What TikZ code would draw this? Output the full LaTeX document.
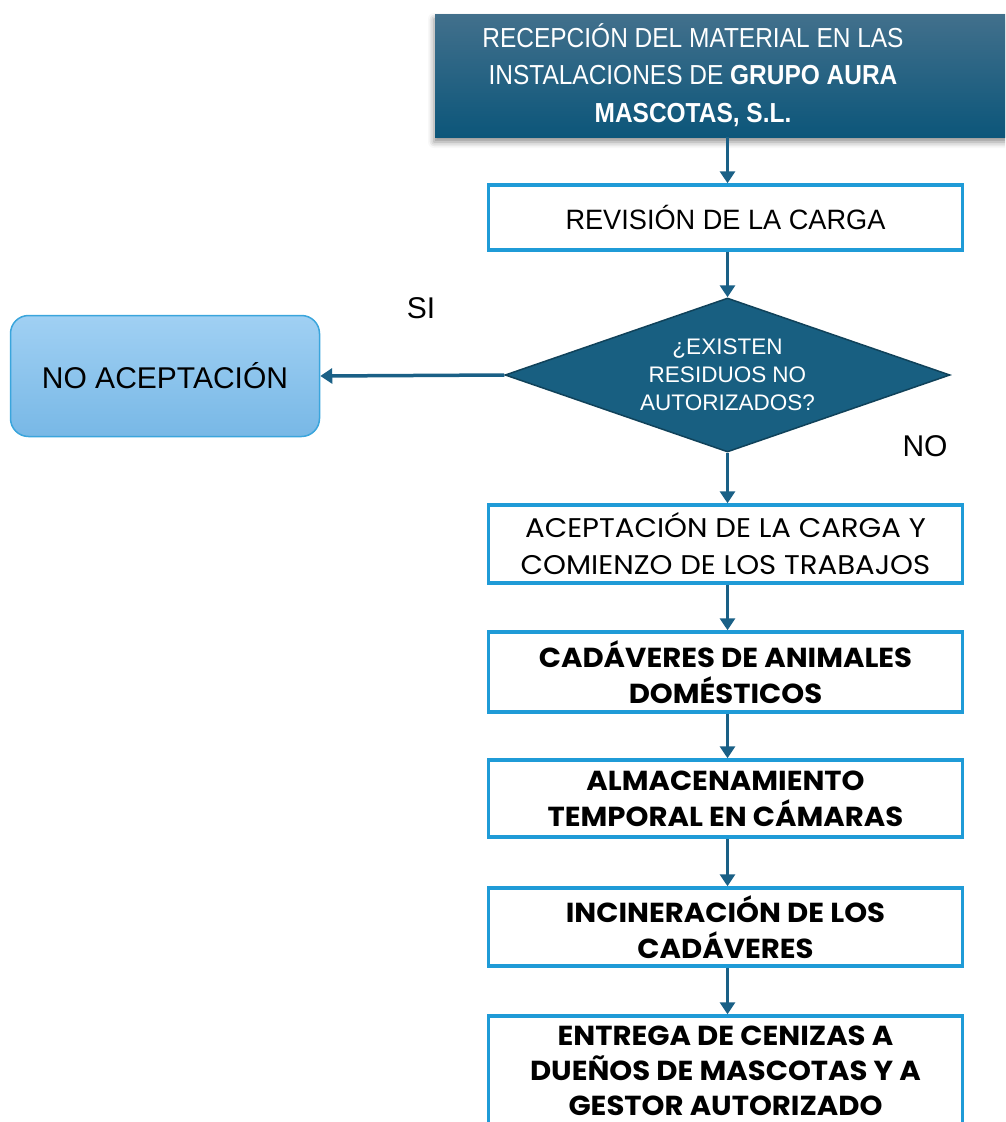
\documentclass[tikz,border=0pt]{standalone}
\usepackage{fontspec}
\setmainfont{Liberation Sans}
\newfontfamily\topfont{Liberation Sans}[FakeStretch=0.89]
\newfontfamily\popfont{Poppins}[FakeStretch=1.06]
\newfontfamily\popregfont{Poppins}[FakeStretch=1.08]
\usetikzlibrary{arrows.meta,shapes.geometric,shadows.blur}
\definecolor{arrowc}{RGB}{26,96,134}
\definecolor{boxline}{RGB}{31,155,215}
\definecolor{diafill}{RGB}{24,95,129}
\definecolor{diadraw}{RGB}{16,66,90}
\definecolor{topA}{RGB}{66,112,140}
\definecolor{topB}{RGB}{12,86,122}
\definecolor{noA}{RGB}{160,208,243}
\definecolor{noB}{RGB}{120,184,230}
\definecolor{noline}{RGB}{58,165,220}
\tikzset{
  arr/.style={draw=arrowc, line width=3.5pt, -{Triangle[width=15pt,length=12pt]}},
  stepbox/.style={draw=boxline, line width=3.5pt, fill=white, minimum width=474pt, inner sep=0pt, align=center},
  regtxt/.style={font=\popregfont\fontsize{27}{37}\selectfont},
  boldtxt/.style={font=\popfont\bfseries\fontsize{27.5}{36}\selectfont},
}
\begin{document}
\begin{tikzpicture}[x=1pt,y=-1pt]
\useasboundingbox (0,0) rectangle (1005,1122);
\clip (0,0) rectangle (1005,1122);
% top box
\node[rectangle, minimum width=582pt, minimum height=123pt, inner sep=0pt,
  top color=topA, bottom color=topB,
  blur shadow={shadow xshift=-1pt, shadow yshift=-5pt, shadow blur radius=6pt, shadow opacity=45}]
  (top) at (726,75.5) {};
\node[text=white, align=center, font=\topfont\fontsize{27.5}{37.5}\selectfont] (toptext) at (693,75)
  {RECEPCIÓN DEL MATERIAL EN LAS\\INSTALACIONES DE \textbf{GRUPO AURA}\\\textbf{MASCOTAS, S.L.}};
% boxes
\node[stepbox, minimum height=65pt, font=\fontsize{28}{30}\selectfont\addfontfeature{FakeStretch=0.97}] (rev) at (725.5,217.5) {REVISIÓN DE LA CARGA};
\node[diamond, draw=diadraw, line width=1.5pt, fill=diafill, aspect=2.9, inner sep=0pt,
  minimum width=445pt, minimum height=154pt, text=white, align=center,
  font=\fontsize{22.5}{28}\selectfont] (dia) at (727.5,375) {¿EXISTEN\\RESIDUOS NO\\AUTORIZADOS?};
\node[rectangle, rounded corners=18pt, draw=noline, line width=1.5pt, top color=noA, bottom color=noB,
  minimum width=309pt, minimum height=121pt, inner sep=0pt, font=\fontsize{30}{34}\selectfont] (noac) at (165,376) {NO ACEPTACIÓN};
\node[stepbox, minimum height=78pt, regtxt] (acep) at (725.5,544) {ACEPTACIÓN DE LA CARGA Y\\COMIENZO DE LOS TRABAJOS};
\node[stepbox, minimum height=80pt, boldtxt] (cad) at (725.5,672) {CADÁVERES DE ANIMALES\\DOMÉSTICOS};
\node[stepbox, minimum height=77pt, boldtxt] (alm) at (725.5,798.5) {ALMACENAMIENTO\\TEMPORAL EN CÁMARAS};
\node[stepbox, minimum height=78pt, boldtxt] (inc) at (725.5,927) {INCINERACIÓN DE LOS\\CADÁVERES};
\node[stepbox, minimum height=124pt, boldtxt] (ent) at (725.5,1078) {};
\node[align=center, inner sep=0pt, font=\popfont\bfseries\fontsize{27.5}{35}\selectfont] (enttext) at (725.5,1071) {ENTREGA DE CENIZAS A\\DUEÑOS DE MASCOTAS Y A\\GESTOR AUTORIZADO};
% labels
\node[font=\fontsize{30}{34}\selectfont] (si) at (421,308) {SI};
\node[font=\fontsize{30}{34}\selectfont] (no) at (925,446) {NO};
% arrows
\draw[arr] (top.south -| dia.north) -- (rev.north -| dia.north);
\draw[arr] (rev.south -| dia.north) -- (dia.north);
\draw[arr] (dia.west) -- (noac.east);
\draw[arr] (dia.south) -- (acep.north -| dia.south);
\draw[arr] (acep.south -| dia.south) -- (cad.north -| dia.south);
\draw[arr] (cad.south -| dia.south) -- (alm.north -| dia.south);
\draw[arr] (alm.south -| dia.south) -- (inc.north -| dia.south);
\draw[arr] (inc.south -| dia.south) -- (ent.north -| dia.south);
\end{tikzpicture}
\end{document}
